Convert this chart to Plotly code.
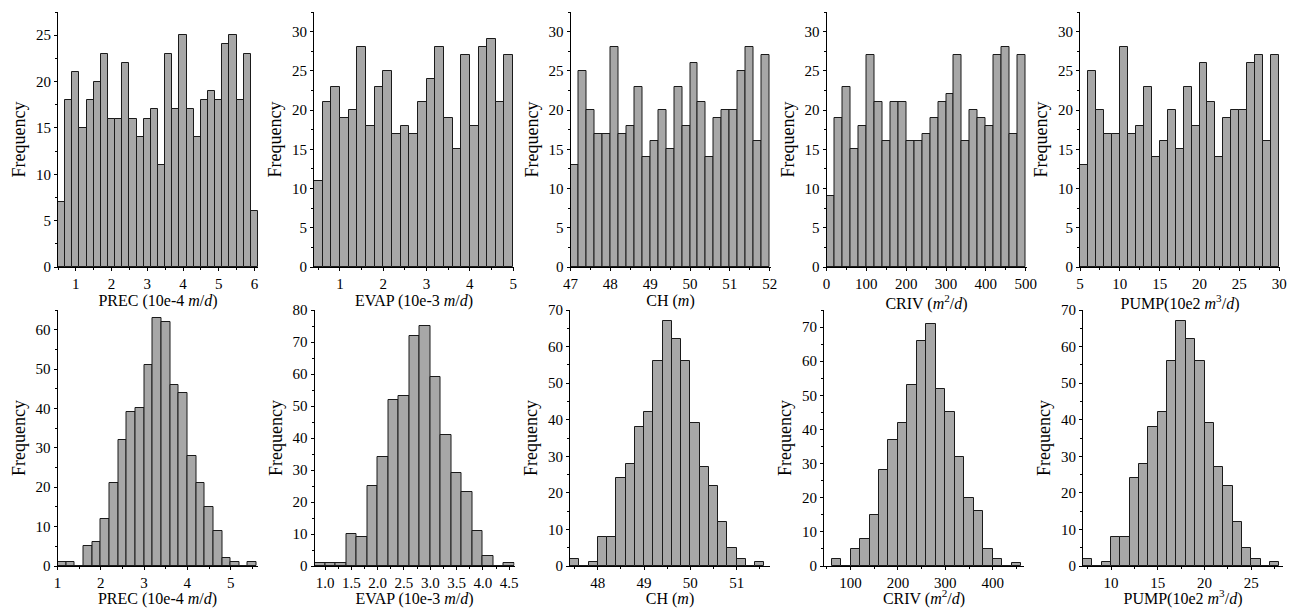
import plotly.graph_objects as go

# ---------------- data (counts per bin, bin start, bin width) ----------------
prec_u_counts = [7, 18, 21, 15, 18, 20, 23, 16, 16, 22, 16, 14, 16, 17, 11, 23, 17, 25, 17, 14, 18, 19, 18, 24, 25, 18, 23, 6]
prec_u_start, prec_u_width = 0.5, 0.2
evap_u_counts = [11, 21, 23, 19, 20, 28, 18, 23, 25, 17, 18, 17, 21, 24, 28, 19, 15, 27, 18, 28, 29, 21, 27]
evap_u_start, evap_u_width = 0.4, 0.2
ch_u_counts = [13, 25, 20, 17, 17, 28, 17, 18, 23, 14, 16, 20, 15, 23, 18, 26, 21, 14, 19, 20, 20, 25, 28, 16, 27]
ch_u_start, ch_u_width = 47.0, 0.2
criv_u_counts = [9, 19, 23, 15, 18, 27, 21, 16, 21, 21, 16, 16, 17, 19, 21, 22, 27, 16, 20, 19, 18, 27, 28, 17, 27]
criv_u_start, criv_u_width = 0, 20
pump_u_counts = [13, 25, 20, 17, 17, 28, 17, 18, 23, 14, 16, 20, 15, 23, 18, 26, 21, 14, 19, 20, 20, 26, 27, 16, 27]
pump_u_start, pump_u_width = 5, 1

prec_n_counts = [1, 1, 0, 5, 6, 12, 21, 32, 39, 40, 51, 63, 62, 46, 44, 28, 21, 15, 9, 2, 1, 0, 1]
prec_n_start, prec_n_width = 1.0, 0.2
evap_n_counts = [1, 1, 1, 10, 9, 25, 34, 52, 53, 72, 75, 59, 41, 29, 23, 11, 3, 0, 1]
evap_n_start, evap_n_width = 0.8, 0.2
ch_n_counts = [2, 0, 1, 8, 8, 24, 28, 38, 42, 56, 67, 62, 56, 39, 27, 22, 12, 5, 2, 0, 1]
ch_n_start, ch_n_width = 47.4, 0.2
criv_n_counts = [2, 0, 5, 8, 15, 28, 37, 42, 53, 66, 71, 52, 45, 32, 20, 16, 5, 2, 0, 1]
criv_n_start, criv_n_width = 60, 20
pump_n_counts = [2, 0, 1, 8, 8, 24, 28, 38, 42, 56, 67, 62, 56, 39, 27, 22, 12, 5, 2, 0, 1]
pump_n_start, pump_n_width = 7, 1

x_titles = [
    "PREC (10e-4 <i>m</i>/<i>d</i>)",
    "EVAP (10e-3 <i>m</i>/<i>d</i>)",
    "CH (<i>m</i>)",
    "CRIV (<i>m</i><sup>2</sup>/<i>d</i>)",
    "PUMP(10e2 <i>m</i><sup>3</sup>/<i>d</i>)",
]
y_title = "Frequency"

# ---------------- panel specs ----------------
panels = [
    # top row (uniform)
    dict(c=prec_u_counts, s=prec_u_start, w=prec_u_width, xr=[0.5, 6.1], yr=[0, 27.5], xdt=1, xmn=0.5, ydt=5, ymn=2.5, t=0, row=0, left=58, fmt=""),
    dict(c=evap_u_counts, s=evap_u_start, w=evap_u_width, xr=[0.4, 5.02], yr=[0, 32.5], xdt=1, xmn=0.5, ydt=5, ymn=2.5, t=1, row=0, left=314, fmt=""),
    dict(c=ch_u_counts, s=ch_u_start, w=ch_u_width, xr=[47, 52.02], yr=[0, 32.5], xdt=1, xmn=0.5, ydt=5, ymn=2.5, t=2, row=0, left=570.5, fmt=""),
    dict(c=criv_u_counts, s=criv_u_start, w=criv_u_width, xr=[0, 502], yr=[0, 32.5], xdt=100, xmn=50, ydt=5, ymn=2.5, t=3, row=0, left=826.5, fmt=""),
    dict(c=pump_u_counts, s=pump_u_start, w=pump_u_width, xr=[5, 30.1], yr=[0, 32.5], xdt=5, xmn=2.5, ydt=5, ymn=2.5, t=4, row=0, left=1080, fmt=""),
    # bottom row (normal)
    dict(c=prec_n_counts, s=prec_n_start, w=prec_n_width, xr=[1, 5.62], yr=[0, 65], xdt=1, xmn=0.5, ydt=10, ymn=5, t=0, row=1, left=57.5, fmt=""),
    dict(c=evap_n_counts, s=evap_n_start, w=evap_n_width, xr=[0.8, 4.6], yr=[0, 80], xdt=0.5, xmn=0.25, ydt=10, ymn=5, t=1, row=1, left=314.5, fmt=".1f"),
    dict(c=ch_n_counts, s=ch_n_start, w=ch_n_width, xr=[47.4, 51.72], yr=[0, 70], xdt=1, xmn=0.5, ydt=10, ymn=5, t=2, row=1, left=570, fmt=""),
    dict(c=criv_n_counts, s=criv_n_start, w=criv_n_width, xr=[44, 466], yr=[0, 75], xdt=100, xmn=50, ydt=10, ymn=5, t=3, row=1, left=824, fmt=""),
    dict(c=pump_n_counts, s=pump_n_start, w=pump_n_width, xr=[7, 28.4], yr=[0, 70], xdt=5, xmn=2.5, ydt=10, ymn=5, t=4, row=1, left=1083, fmt=""),
]

W, H = 1289, 608
PLOT_W = 200
ROWS = [(12, 267), (310, 566)]
FONT = "Liberation Serif"
BAR_FILL = "#a7a7a7"
BAR_LINE = "#1a1a1a"

fig = go.Figure()
layout = dict(
    width=W, height=H,
    margin=dict(l=0, r=0, t=0, b=0, autoexpand=False),
    paper_bgcolor="white", plot_bgcolor="white",
    showlegend=False,
    bargap=0,
    font=dict(family=FONT, size=14, color="black"),
)

for i, p in enumerate(panels):
    n = i + 1
    xa = "x" if n == 1 else f"x{n}"
    ya = "y" if n == 1 else f"y{n}"
    centers = [p["s"] + p["w"] * (k + 0.5) for k in range(len(p["c"]))]
    fig.add_trace(go.Bar(
        x=centers, y=p["c"], width=[p["w"]] * len(p["c"]),
        marker=dict(color=BAR_FILL, line=dict(color=BAR_LINE, width=1)),
        xaxis=xa, yaxis=ya, hoverinfo="x+y",
    ))
    top, bot = ROWS[p["row"]]
    xdom = [p["left"] / W, (p["left"] + PLOT_W) / W]
    ydom = [1 - bot / H, 1 - top / H]
    xkey = "xaxis" if n == 1 else f"xaxis{n}"
    ykey = "yaxis" if n == 1 else f"yaxis{n}"
    has_sup = "<sup>" in x_titles[p["t"]]
    layout[xkey] = dict(
        domain=xdom, anchor=ya, range=p["xr"], automargin=False,
        showline=True, linecolor="black", linewidth=1,
        showgrid=False, zeroline=False,
        ticks="outside", ticklen=3, tickcolor="black", tickwidth=1,
        tick0=0, dtick=p["xdt"], tickformat=p["fmt"],
        minor=dict(ticks="outside", ticklen=2, dtick=p["xmn"], tickcolor="black", showgrid=False),
        tickfont=dict(family=FONT, size=15, color="black"),
        title=dict(text=x_titles[p["t"]], font=dict(family=FONT, size=16, color="black"),
                   standoff=2 if has_sup else 0),
        fixedrange=True,
    )
    layout[ykey] = dict(
        domain=ydom, anchor=xa, range=p["yr"], automargin=False,
        showline=True, linecolor="black", linewidth=1,
        showgrid=False, zeroline=False,
        ticks="outside", ticklen=3, tickcolor="black", tickwidth=1,
        tick0=0, dtick=p["ydt"],
        minor=dict(ticks="outside", ticklen=2, dtick=p["ymn"], tickcolor="black", showgrid=False),
        tickfont=dict(family=FONT, size=15, color="black"),
        title=dict(text=y_title, font=dict(family=FONT, size=18, color="black"), standoff=5),
        fixedrange=True,
    )

fig.update_layout(**layout)
fig.write_html(
    "out.html",
    config={"displayModeBar": False},
    post_script="document.body.style.margin='0px';document.body.style.overflow='hidden';",
)
